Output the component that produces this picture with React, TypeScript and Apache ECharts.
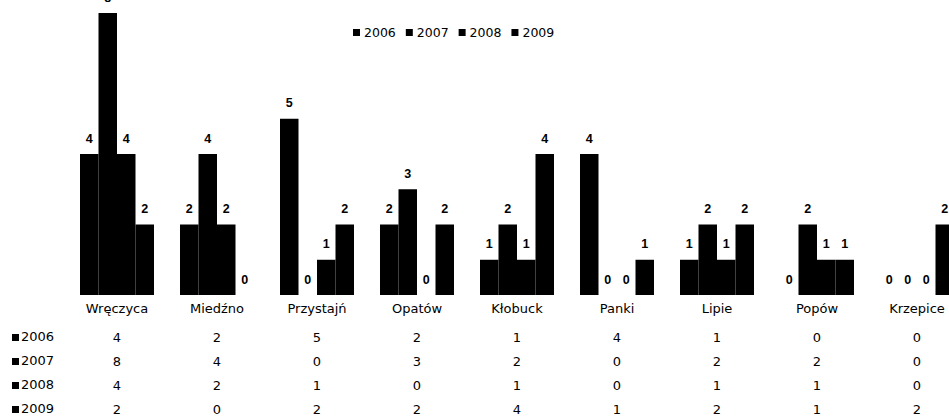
import React, { useEffect, useRef } from "react";
import * as echarts from "echarts";

const categories = ["Wręczyca", "Miedźno", "Przystajń", "Opatów", "Kłobuck", "Panki", "Lipie", "Popów", "Krzepice"];
const years = ["2006", "2007", "2008", "2009"];
const v2006 = [4, 2, 5, 2, 1, 4, 1, 0, 0];
const v2007 = [8, 4, 0, 3, 2, 0, 2, 2, 0];
const v2008 = [4, 2, 1, 0, 1, 0, 1, 1, 0];
const v2009 = [2, 0, 2, 2, 4, 1, 2, 1, 2];
const seriesValues = [v2006, v2007, v2008, v2009];

const FONT = "'DejaVu Sans', Verdana, sans-serif";
const BOLD_FONT = "'Liberation Sans', Arial, sans-serif";

export default function App() {
  const ref = useRef<HTMLDivElement>(null);
  useEffect(() => {
    if (!ref.current) return;
    const chart = echarts.init(ref.current, null, { renderer: "svg" });
    const gridTop = 13;
    const gridHeight = 282;
    const rowOffsets = [42, 66, 90, 114];
    const xAxes: any[] = [
      {
        type: "category",
        data: categories,
        gridIndex: 0,
        position: "bottom",
        axisLine: { show: false },
        axisTick: { show: false },
        axisLabel: { margin: 7, color: "#000", fontFamily: FONT, fontSize: 13, interval: 0 },
      },
    ];
    seriesValues.forEach((vals, i) => {
      xAxes.push({
        type: "category",
        data: vals.map(String),
        gridIndex: 0,
        position: "bottom",
        offset: rowOffsets[i],
        axisLine: { show: false },
        axisTick: { show: false },
        axisLabel: { margin: 0, color: "#000", fontFamily: FONT, fontSize: 13, interval: 0, verticalAlign: "middle" },
      });
    });
    const rowHeaders = years.map((y, i) => ({
      type: "group",
      left: 12,
      top: gridTop + gridHeight + rowOffsets[i] - 7,
      children: [
        { type: "rect", shape: { x: 0, y: 4, width: 7, height: 7 }, style: { fill: "#000" } },
        { type: "text", x: 9, y: 0, style: { text: y, font: `13px ${FONT}`, fill: "#000" } },
      ],
    }));
    chart.setOption({
      animation: false,
      legend: {
        data: years,
        top: 21,
        left: 348,
        itemWidth: 7,
        itemHeight: 7,
        itemGap: 10,
        icon: "rect",
        textStyle: { color: "#000", fontFamily: FONT, fontSize: 12.5, padding: [0, 0, 0, -1] },
      },
      grid: { left: 67, top: gridTop, width: 900, height: gridHeight, containLabel: false },
      xAxis: xAxes,
      yAxis: { type: "value", min: 0, max: 8, show: false },
      graphic: rowHeaders,
      series: seriesValues.map((vals, i) => ({
        name: years[i],
        type: "bar",
        data: vals,
        xAxisIndex: 0,
        barGap: "0%",
        barCategoryGap: "26%",
        itemStyle: { color: "#000" },
        label: {
          show: true,
          position: "top",
          distance: 9,
          color: "#000",
          fontWeight: "bold",
          fontFamily: BOLD_FONT,
          fontSize: 12.5,
        },
      })),
    });
    return () => chart.dispose();
  }, []);
  return (
    <div
      style={{ position: "fixed", left: 0, top: 0, width: 949, height: 418, overflow: "hidden", background: "#fff" }}
    >
      <div ref={ref} style={{ width: 1000, height: 418 }} />
    </div>
  );
}
